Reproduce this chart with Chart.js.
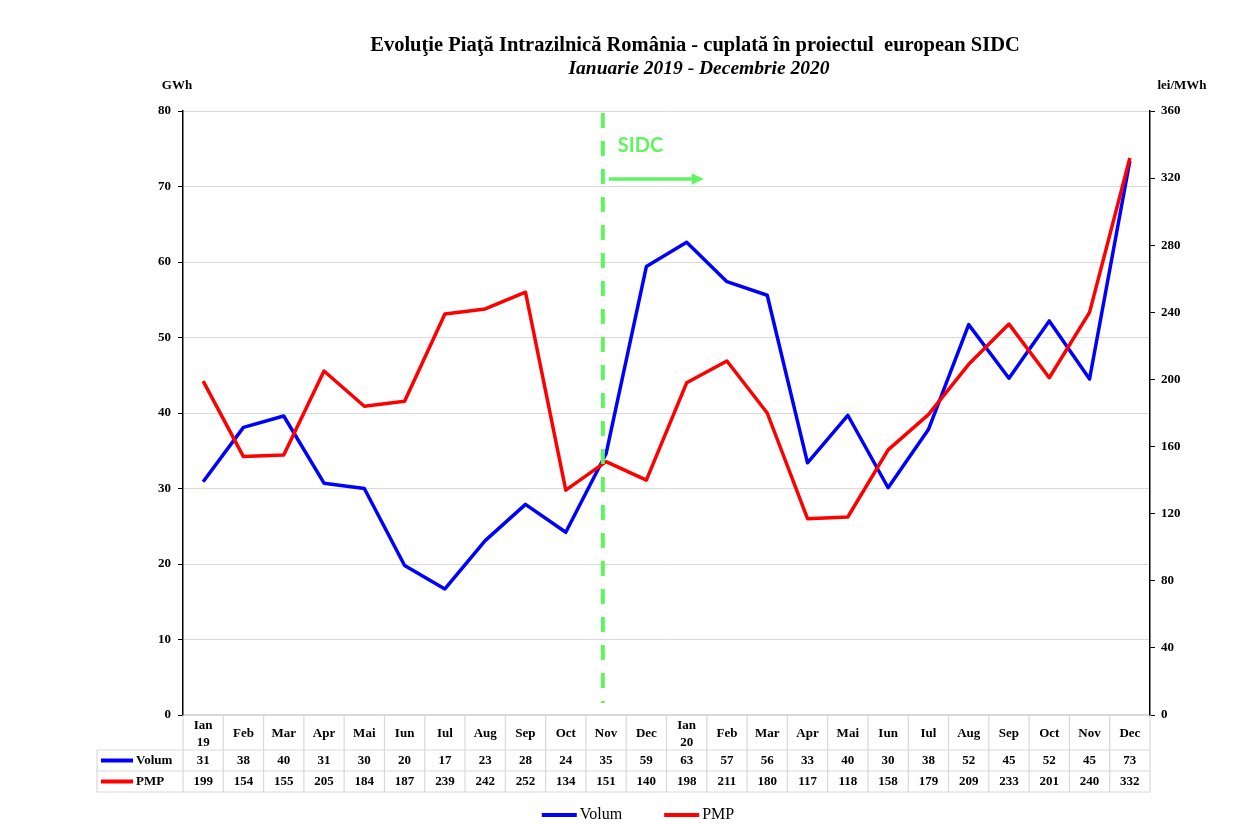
<!DOCTYPE html>
<html>
<head>
<meta charset="utf-8">
<title>Piata Intrazilnica</title>
<script src="https://cdn.jsdelivr.net/npm/chart.js@4.4.1/dist/chart.umd.min.js"></script>
<style>
  html, body { margin: 0; padding: 0; background: #fff; }
</style>
</head>
<body>
<canvas id="piataChart" width="1249" height="824"></canvas>
<script>
// date
const luni = [['Ian', '19'], 'Feb', 'Mar', 'Apr', 'Mai', 'Iun', 'Iul', 'Aug', 'Sep', 'Oct', 'Nov', 'Dec',
              ['Ian', '20'], 'Feb', 'Mar', 'Apr', 'Mai', 'Iun', 'Iul', 'Aug', 'Sep', 'Oct', 'Nov', 'Dec'];
const volum = [30.9, 38.1, 39.6, 30.7, 30.0, 19.8, 16.7, 23.1, 27.9, 24.2, 34.6, 59.4,
               62.6, 57.4, 55.6, 33.4, 39.7, 30.1, 37.8, 51.7, 44.6, 52.2, 44.5, 73.4];
const pmp = [199, 154, 155, 205, 184, 187, 239, 242, 252, 134, 151, 140,
             198, 211, 180, 117, 118, 158, 179, 209, 233, 201, 240, 332];
const ticksGWh = [0, 10, 20, 30, 40, 50, 60, 70, 80];
const ticksLei = [0, 40, 80, 120, 160, 200, 240, 280, 320, 360];
const titlu = 'Evoluţie Piaţă Intrazilnică România - cuplată în proiectul  european SIDC';
const subtitlu = 'Ianuarie 2019 - Decembrie 2020';

const SERIF = '"Liberation Serif", "Times New Roman", serif';
const GRI = '#d9d9d9';
const VERDE = '#5ef55e';
const tickFont = { family: SERIF, size: 13, weight: 'bold' };

function linie(ctx, x1, y1, x2, y2) {
    ctx.beginPath();
    ctx.moveTo(x1, y1);
    ctx.lineTo(x2, y2);
    ctx.stroke();
}

const decor = {
    id: 'decor',
    afterDraw(chart) {
        const { ctx, chartArea: ca, scales: { x } } = chart;
        const ds = chart.data.datasets;
        ctx.save();

        // titluri
        ctx.fillStyle = '#000';
        ctx.textAlign = 'center';
        ctx.textBaseline = 'middle';
        ctx.font = 'bold 20.5px ' + SERIF;
        ctx.fillText(titlu, 695, 46);
        ctx.font = 'italic bold 19.5px ' + SERIF;
        ctx.fillText(subtitlu, 699, 69);
        ctx.font = 'bold 13px ' + SERIF;
        ctx.fillText('GWh', ca.left - 6, 86);
        ctx.fillText('lei/MWh', ca.right + 32, 86);

        // SIDC
        const xd = x.getPixelForValue(9.92);
        ctx.strokeStyle = VERDE;
        ctx.lineWidth = 4;
        ctx.setLineDash([15, 13]);
        linie(ctx, xd, ca.top + 2, xd, ca.bottom - 12);
        ctx.setLineDash([]);
        ctx.fillStyle = VERDE;
        ctx.textAlign = 'left';
        ctx.font = 'bold 20px Lato, "Open Sans", sans-serif';
        ctx.fillText('SIDC', xd + 15, 146);
        ctx.lineWidth = 3.5;
        linie(ctx, xd + 6, 179, xd + 92, 179);
        ctx.beginPath();
        ctx.moveTo(xd + 101, 179);
        ctx.lineTo(xd + 89, 173.5);
        ctx.lineTo(xd + 89, 184.5);
        ctx.closePath();
        ctx.fill();

        // tabel de date
        const yH = ca.bottom, y1 = yH + 35, y2 = y1 + 21, y3 = y2 + 21;
        const xL = 97;
        ctx.strokeStyle = GRI;
        ctx.lineWidth = 1.2;
        linie(ctx, xL, y1, ca.right, y1);
        linie(ctx, xL, y2, ca.right, y2);
        linie(ctx, xL, y3, ca.right, y3);
        linie(ctx, xL, y1, xL, y3);
        for (let k = 0; k <= luni.length; k++) {
            const m = x.getPixelForValue(k - 0.5);
            linie(ctx, m, yH, m, y3);
        }
        const randuri = [
            { y: (y1 + y2) / 2, vals: volum, d: ds[0] },
            { y: (y2 + y3) / 2, vals: pmp, d: ds[1] }
        ];
        ctx.font = 'bold 13px ' + SERIF;
        randuri.forEach(r => {
            ctx.strokeStyle = r.d.borderColor;
            ctx.lineWidth = 4;
            linie(ctx, xL + 4, r.y, xL + 36, r.y);
            ctx.fillStyle = '#000';
            ctx.textAlign = 'left';
            ctx.fillText(r.d.label, xL + 39, r.y);
            ctx.textAlign = 'center';
            r.vals.forEach((v, i) => ctx.fillText(String(Math.round(v)), x.getPixelForValue(i), r.y));
        });

        // legenda
        ctx.font = '16px ' + SERIF;
        const keyW = 35, gap = 3, spatiu = 42;
        const lat = ds.map(d => keyW + gap + ctx.measureText(d.label).width);
        const total = lat.reduce((a, b) => a + b, 0) + spatiu * (ds.length - 1);
        let cx = 638 - total / 2;
        const yl = 815;
        ds.forEach((d, i) => {
            ctx.strokeStyle = d.borderColor;
            ctx.lineWidth = 4;
            linie(ctx, cx, yl, cx + keyW, yl);
            ctx.fillStyle = '#000';
            ctx.textAlign = 'left';
            ctx.fillText(d.label, cx + keyW + gap, yl);
            cx += lat[i] + spatiu;
        });
        ctx.restore();
    }
};

const ctx = document.getElementById('piataChart').getContext('2d');
new Chart(ctx, {
    type: 'line',
    data: {
        labels: luni,
        datasets: [{
            label: 'Volum',
            data: volum,
            yAxisID: 'y',
            borderColor: '#0000ff',
            borderWidth: 3.5,
            pointRadius: 0,
            tension: 0,
            borderJoinStyle: 'round',
            order: 1
        }, {
            label: 'PMP',
            data: pmp,
            yAxisID: 'y1',
            borderColor: '#ff0000',
            borderWidth: 3.5,
            pointRadius: 0,
            tension: 0,
            borderJoinStyle: 'round',
            order: 0
        }]
    },
    options: {
        responsive: false,
        animation: false,
        layout: { padding: { top: 111, left: 100, right: 49, bottom: 73 } },
        plugins: {
            legend: { display: false },
            title: { display: false },
            tooltip: { enabled: false }
        },
        scales: {
            x: {
                offset: true,
                grid: { display: false, drawTicks: false },
                border: { color: GRI, width: 1.2 },
                ticks: {
                    autoSkip: false, maxRotation: 0, minRotation: 0,
                    padding: 11, color: '#000', crossAlign: 'center',
                    font: { family: SERIF, size: 13, weight: 'bold', lineHeight: 1.25 }
                },
                afterFit: s => { s.height = 36; }
            },
            y: {
                position: 'left',
                min: ticksGWh[0],
                max: ticksGWh[ticksGWh.length - 1],
                ticks: { stepSize: ticksGWh[1] - ticksGWh[0], padding: 7, color: '#000', font: tickFont },
                grid: { color: GRI, tickColor: '#000', tickLength: 5, lineWidth: 1 },
                border: { color: '#000', width: 1.5 },
                afterFit: s => { s.width = 83; }
            },
            y1: {
                position: 'right',
                min: ticksLei[0],
                max: ticksLei[ticksLei.length - 1],
                ticks: { stepSize: ticksLei[1] - ticksLei[0], padding: 6, color: '#000', font: tickFont },
                grid: { drawOnChartArea: false, tickColor: '#000', tickLength: 5 },
                border: { color: '#000', width: 1.5 },
                afterFit: s => { s.width = 50; }
            }
        }
    },
    plugins: [decor]
});
</script>
</body>
</html>
